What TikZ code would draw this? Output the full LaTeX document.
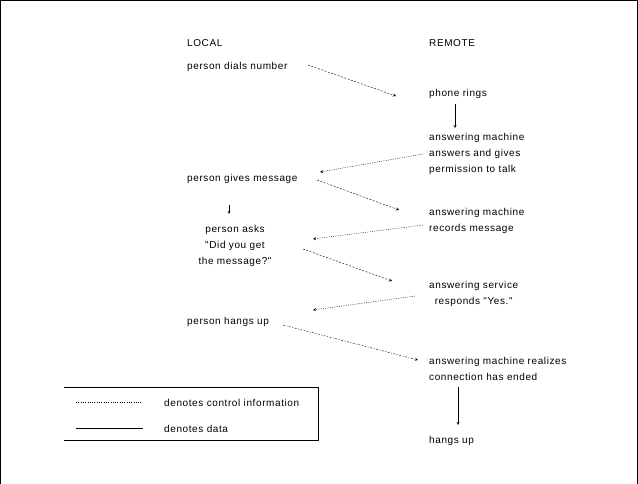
\documentclass[tikz,border=0pt]{standalone}
\usepackage{fontspec}
\newfontfamily\plainfont{Liberation Sans}[LetterSpace=6]
\usetikzlibrary{arrows}

\begin{document}
\begin{tikzpicture}[
    x=1pt,y=-1pt,
    lbl/.style={anchor=west,align=left,inner sep=1pt,font=\plainfont\fontsize{10}{16}\selectfont},
    ctrl/.style={->,>=stealth,dash pattern=on 1pt off 1.3pt},
    ctrldash/.style={->,>=stealth,dash pattern=on 2pt off 1.5pt},
    data/.style={->,>=stealth}
]
\useasboundingbox (0,0) rectangle (638,484);
\draw[line width=1pt] (0.5,484) -- (0.5,0.5) -- (637.5,0.5) -- (637.5,484);

\node[lbl] (local) at (186,43) {LOCAL};
\node[lbl] (remote) at (428,43) {REMOTE};
\node[lbl] (dial) at (186,67) {person dials number};
\node[lbl] (rings) at (428,94) {phone rings};
\node[lbl] (answers) at (428,153.5) {answering machine\\answers and gives\\permission to talk};
\node[lbl] (gives) at (186,179) {person gives message};
\node[lbl,anchor=center,align=center] (asks) at (235,246) {person asks\\"Did you get\\the message?"};
\node[lbl] (records) at (428,221) {answering machine\\records message};
\node[lbl,align=center] (responds) at (428,294) {answering service\\responds "Yes."};
\node[lbl] (hangs) at (186,322) {person hangs up};
\node[lbl] (realizes) at (428,369) {answering machine realizes\\connection has ended};
\node[lbl] (rhangs) at (428,441) {hangs up};

\draw[ctrldash] ([shift={(122,-2)}]dial.west) -- ([shift={(-32,2)}]rings.west);
\draw[data] ([shift={(27,10)}]rings.west) -- ([shift={(27,-25.5)}]answers.west);
\draw[ctrl] ([shift={(-5,0.5)}]answers.west) -- ([shift={(134,-7)}]gives.west);
\draw[ctrldash] ([shift={(131,1)}]gives.west) -- ([shift={(-29,-11)}]records.west);
\draw[data] ([shift={(-6,-41)}]asks.center) -- ([shift={(-6,-32)}]asks.center);
\draw[ctrl] ([shift={(-5,4)}]records.west) -- ([shift={(78,-7)}]asks.center);
\draw[ctrldash] ([shift={(68,3)}]asks.center) -- ([shift={(-36,-13)}]responds.west);
\draw[ctrl] ([shift={(-13,2)}]responds.west) -- ([shift={(127,-12)}]hangs.west);
\draw[ctrl,dash pattern=on 2pt off 1.5pt on 1pt off 1.5pt] ([shift={(97,3)}]hangs.west) -- ([shift={(-10,-9)}]realizes.west);
\draw[data] ([shift={(30,18)}]realizes.west) -- ([shift={(30,-16)}]rhangs.west);

% legend
\draw (64,387) -- (318,387) -- (318,440) -- (64,440);
\coordinate (ctrlline) at (76,402);
\coordinate (dataline) at (76,428);
\draw[dash pattern=on 1pt off 1.3pt] (ctrlline) -- ++(66,0);
\draw (dataline) -- ++(67,0);
\node[lbl] (ctrltext) at (163,403) {denotes control information};
\node[lbl] (datatext) at (163,429) {denotes data};

\end{tikzpicture}
\end{document}
